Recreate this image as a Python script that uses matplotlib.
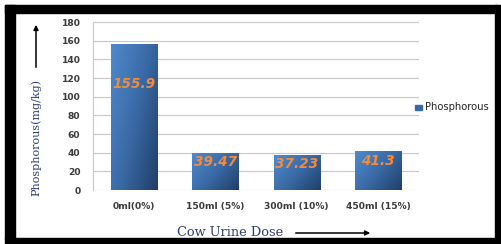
import numpy as np
import matplotlib
matplotlib.use("Agg")
import matplotlib.pyplot as plt
from matplotlib.colors import LinearSegmentedColormap
from matplotlib.patches import Rectangle, FancyArrowPatch

# data
doses = ['0ml(0%)', '150ml (5%)', '300ml (10%)', '450ml (15%)']
phosphorous = [155.9, 39.47, 37.23, 41.3]
value_labels = ['155.9', '39.47', '37.23', '41.3']
label_pos = [114, 30, 28, 31]
yticks = [0, 20, 40, 60, 80, 100, 120, 140, 160, 180]

fig = plt.figure(figsize=(5.02, 2.44), dpi=100)
fig.patch.set_facecolor('white')

# black frame around the picture
W, H = 502.0, 244.0
for (x0, y0, w, h) in [(5, 5, 492, 8), (5, 5, 10, 234), (495, 5, 7, 239), (5, 238, 497, 6)]:
    fig.patches.append(Rectangle((x0 / W, 1 - (y0 + h) / H), w / W, h / H,
                                 transform=fig.transFigure, color='black', zorder=0))

ax = fig.add_axes([93 / W, 1 - 190 / H, (419 - 93) / W, (190 - 22) / H])
x = np.arange(len(doses))
bars = ax.bar(x, phosphorous, width=0.57, color='none', edgecolor='none', zorder=2)

# gradient fill for each bar
cmap = LinearSegmentedColormap.from_list('bluegrad', ['#5089CB', '#3A6AA6', '#203F68'])
gx, gy = np.meshgrid(np.linspace(0, 1, 50), np.linspace(0, 1, 50))
grad = 0.6 * gx + 0.4 * (1 - gy)
for b in bars:
    x0, w = b.get_x(), b.get_width()
    h = b.get_height()
    im = ax.imshow(grad, cmap=cmap, extent=[x0, x0 + w, 0, h], origin='lower',
                   aspect='auto', zorder=2)
    im.set_clip_path(b)

for i, (lab, yp) in enumerate(zip(value_labels, label_pos)):
    ax.text(x[i], yp, lab, ha='center', va='center', fontsize=9.8, fontweight='bold',
            fontstyle='italic', color='#F28C3C', zorder=3)

ax.set_xlim(-0.5, len(doses) - 0.5)
ax.set_ylim(0, 180)
ax.set_yticks(yticks)
ax.set_xticks(x)
ax.set_xticklabels(doses)
ax.tick_params(axis='both', length=0, labelsize=6.6, labelcolor='#3A3A3A')
ax.tick_params(axis='y', pad=9)
ax.tick_params(axis='x', pad=9)
for t in ax.get_xticklabels() + ax.get_yticklabels():
    t.set_fontweight('bold')
ax.grid(axis='y', color='#C8C8C8', linewidth=0.8, zorder=0)
ax.set_axisbelow(True)
for s in ['top', 'right', 'bottom']:
    ax.spines[s].set_visible(False)
ax.spines['left'].set_color('#C8C8C8')
ax.spines['left'].set_linewidth(0.8)

# legend
fig.patches.append(Rectangle((415 / W, 1 - 110 / H), 7 / W, 5 / H,
                             transform=fig.transFigure, color='#3A6AA6'))
fig.text(425 / W, 1 - 107 / H, 'Phosphorous', fontsize=7.2, color='#222222', va='center')

# axis titles with arrows
fig.text(36 / W, 1 - 137 / H, 'Phosphorous(mg/kg)', rotation=90, ha='center', va='center',
         family='DejaVu Serif', fontsize=8, color='#2F3D73')
fig.text(230 / W, 1 - 233 / H, 'Cow Urine Dose', ha='center', va='center',
         family='DejaVu Serif', fontsize=9.3, color='#2F3D73')
fig.add_artist(FancyArrowPatch(
    (36 / W, 1 - 70 / H), (36 / W, 1 - 22 / H), transform=fig.transFigure,
    arrowstyle='-|>', mutation_scale=7, color='black', linewidth=1.1))
fig.add_artist(FancyArrowPatch(
    (293 / W, 1 - 233 / H), (373 / W, 1 - 233 / H), transform=fig.transFigure,
    arrowstyle='-|>', mutation_scale=7, color='black', linewidth=1.1))

fig.savefig('out.png', dpi=100)
